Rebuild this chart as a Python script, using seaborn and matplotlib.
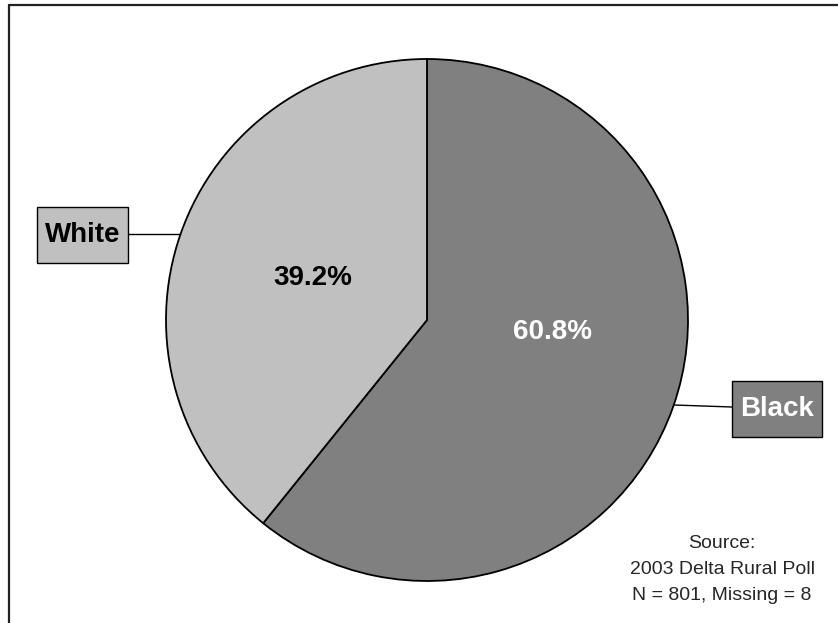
import matplotlib
matplotlib.use("Agg")
import matplotlib.pyplot as plt
import seaborn as sns
from matplotlib.lines import Line2D
from matplotlib.patches import Rectangle

# data
labels = ["Black", "White"]
shares = [60.8, 39.2]
slice_colors = ["#808080", "#C0C0C0"]
pct_text_colors = ["white", "black"]
source_lines = ["Source:", "2003 Delta Rural Poll", "N = 801, Missing = 8"]

sns.set_style("white")
plt.rcParams["font.family"] = ["Liberation Sans", "DejaVu Sans"]

W, H = 838, 623
fig = plt.figure(figsize=(W / 100, H / 100), dpi=100)

# pie centre / radius in pixels
cx, cy, r = 427, 320, 261
ax = fig.add_axes([(cx - r) / W, (H - cy - r) / H, 2 * r / W, 2 * r / H])

wedges, _ = ax.pie(shares, colors=slice_colors, startangle=90, counterclock=False,
                   wedgeprops=dict(edgecolor="black", linewidth=1.3))
ax.set_xlim(-1, 1)
ax.set_ylim(-1, 1)
ax.set_aspect("equal")
ax.axis("off")


def fx(px):
    return px / W


def fy(py):
    return 1 - py / H


# percentage labels
pct_pos = [(552, 332), (313, 278)]
for val, (px, py), c in zip(shares, pct_pos, pct_text_colors):
    fig.text(fx(px), fy(py), f"{val:.1f}%", ha="center", va="center",
             fontsize=20, fontweight="bold", color=c)

# category boxes with leader lines (box: left, top, width, height in px)
boxes = [(732, 381, 90, 56), (37, 207, 91, 56)]
leaders = [((674, 405), (732, 407)), ((180, 234), (128, 234))]
for lab, col, tcol, (bx, by, bw, bh), (p0, p1) in zip(labels, slice_colors, pct_text_colors,
                                                     boxes, leaders):
    fig.add_artist(Rectangle((fx(bx), fy(by + bh)), bw / W, bh / H, facecolor=col,
                             edgecolor="black", linewidth=1.0, transform=fig.transFigure))
    fig.text(fx(bx + bw / 2), fy(by + bh / 2), lab, ha="center", va="center",
             fontsize=20, fontweight="bold", color=tcol)
    fig.add_artist(Line2D([fx(p0[0]), fx(p1[0])], [fy(p0[1]), fy(p1[1])],
                          color="black", linewidth=1.0, transform=fig.transFigure))

# source note
for i, line in enumerate(source_lines):
    fig.text(fx(722), fy(543 + 26 * i), line, ha="center", va="center", fontsize=14)

# chart frame (top and left edges visible)
fig.add_artist(Line2D([fx(9), 1], [fy(5), fy(5)], color="#222222", linewidth=1.6,
                      transform=fig.transFigure))
fig.add_artist(Line2D([fx(9), fx(9)], [fy(5), 0], color="#222222", linewidth=1.6,
                      transform=fig.transFigure))

fig.savefig("out.png", dpi=100)
